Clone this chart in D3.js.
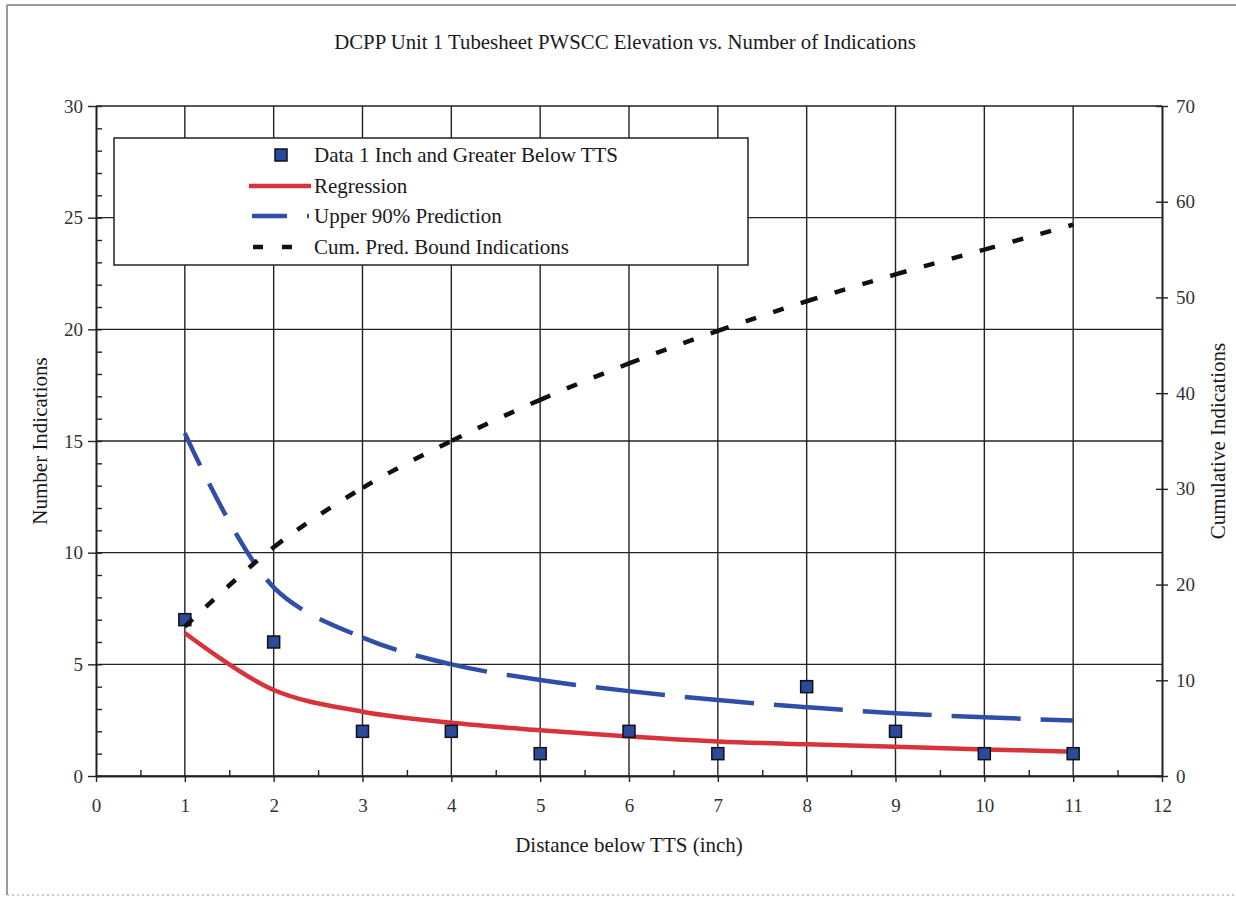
<html>
<head>
    <meta charset="utf-8">
    <title>DCPP Unit 1 Tubesheet PWSCC Elevation</title>
    <script src="https://d3js.org/d3.v7.min.js"></script>
    <style>
        body { margin: 0; background: #fff; overflow: hidden; }
        text { font-family: "Liberation Serif", "Times New Roman", serif; }
    </style>
</head>
<body>
    <div id="my_chart"></div>
    <script>
        // distance below TTS (inch)
        var distance = [1, 2, 3, 4, 5, 6, 7, 8, 9, 10, 11];
        // observed indications
        var indications = [7, 6, 2, 2, 1, 2, 1, 4, 2, 1, 1];
        var regression = [6.4, 3.85, 2.88, 2.38, 2.05, 1.77, 1.55, 1.42, 1.31, 1.19, 1.09];
        var upper90 = [15.35, 8.45, 6.2, 5.0, 4.3, 3.8, 3.4, 3.08, 2.81, 2.63, 2.48];
        // cumulative, read on right axis
        var cumBound = [15.6, 23.9, 30.1, 35.0, 39.3, 43.1, 46.5, 49.6, 52.4, 55.0, 57.6];

        var xTicks = [0, 1, 2, 3, 4, 5, 6, 7, 8, 9, 10, 11, 12];
        var yLeftTicks = [0, 5, 10, 15, 20, 25, 30];
        var yRightTicks = [0, 10, 20, 30, 40, 50, 60, 70];

        var legendLabels = ["Data 1 Inch and Greater Below TTS", "Regression",
                            "Upper 90% Prediction", "Cum. Pred. Bound Indications"];

        var W = 1236, H = 900;
        var plotL = 96, plotR = 1162, plotT = 106, plotB = 776;

        var svg = d3.select("#my_chart")
            .append("svg")
            .attr("width", W)
            .attr("height", H)
            .style("display", "block");

        // outer frame of the scanned figure
        svg.append("line").attr("x1", 7).attr("x2", 7).attr("y1", 5).attr("y2", 895)
            .attr("stroke", "#999").attr("stroke-width", 2);
        svg.append("line").attr("x1", 7).attr("x2", W).attr("y1", 5).attr("y2", 5)
            .attr("stroke", "#999").attr("stroke-width", 2);
        svg.append("line").attr("x1", 7).attr("x2", W).attr("y1", 895).attr("y2", 895)
            .attr("stroke", "#bbb").attr("stroke-width", 1.5).attr("stroke-dasharray", "2,3");

        var x = d3.scaleLinear().domain([0, 12]).range([plotL, plotR]);
        var yL = d3.scaleLinear().domain([0, 30]).range([plotB, plotT]);
        var yR = d3.scaleLinear().domain([0, 70]).range([plotB, plotT]);

        var gridColor = "#222";
        var textColor = "#1a1a1a";

        // grid
        svg.append("g").selectAll("line")
            .data(yLeftTicks)
            .enter().append("line")
            .attr("x1", plotL).attr("x2", plotR)
            .attr("y1", function(d) { return yL(d); })
            .attr("y2", function(d) { return yL(d); })
            .attr("stroke", gridColor).attr("stroke-width", 1.4);
        svg.append("g").selectAll("line")
            .data(xTicks.slice(1, -1))
            .enter().append("line")
            .attr("x1", function(d) { return x(d); })
            .attr("x2", function(d) { return x(d); })
            .attr("y1", plotT).attr("y2", plotB)
            .attr("stroke", gridColor).attr("stroke-width", 1.4);

        function styleAxis(g) {
            g.select(".domain").attr("stroke", gridColor).attr("stroke-width", 1.6);
            g.selectAll(".tick line").attr("stroke", gridColor).attr("stroke-width", 1.4);
            g.selectAll("text")
                .attr("font-family", "'Liberation Serif', 'Times New Roman', serif")
                .attr("font-size", 19).attr("fill", "#333");
        }

        // left axis, major outward + minor inward
        svg.append("g")
            .attr("transform", "translate(" + plotL + ",0)")
            .call(d3.axisLeft(yL).tickValues(yLeftTicks).tickSize(8).tickPadding(5).tickSizeOuter(0))
            .call(styleAxis);
        svg.append("g")
            .attr("transform", "translate(" + plotL + ",0)")
            .call(d3.axisRight(yL).tickValues(d3.range(0, 31)).tickSize(6).tickFormat("").tickSizeOuter(0))
            .call(styleAxis);

        // bottom axis
        svg.append("g")
            .attr("transform", "translate(0," + plotB + ")")
            .call(d3.axisBottom(x).tickValues(xTicks).tickSize(6).tickPadding(17).tickSizeOuter(0))
            .call(styleAxis);
        svg.append("g")
            .attr("transform", "translate(0," + plotB + ")")
            .call(d3.axisTop(x).tickValues(d3.range(0.5, 12, 1)).tickSize(6).tickFormat("").tickSizeOuter(0))
            .call(styleAxis);

        // right axis, ticks cross the line
        svg.append("g")
            .attr("transform", "translate(" + plotR + ",0)")
            .call(d3.axisRight(yR).tickValues(yRightTicks).tickSize(6).tickPadding(8).tickSizeOuter(0))
            .call(styleAxis);
        svg.append("g")
            .attr("transform", "translate(" + plotR + ",0)")
            .call(d3.axisLeft(yR).tickValues(yRightTicks).tickSize(6).tickFormat("").tickSizeOuter(0))
            .call(styleAxis);

        // titles
        svg.append("text")
            .attr("x", 625).attr("y", 49)
            .attr("text-anchor", "middle")
            .attr("font-size", 20.8).attr("fill", textColor)
            .text("DCPP Unit 1 Tubesheet PWSCC Elevation vs. Number of Indications");
        svg.append("text")
            .attr("x", (plotL + plotR) / 2).attr("y", 852)
            .attr("text-anchor", "middle")
            .attr("font-size", 21).attr("fill", textColor)
            .text("Distance below TTS (inch)");
        svg.append("text")
            .attr("transform", "translate(47," + (plotT + plotB) / 2 + ") rotate(-90)")
            .attr("text-anchor", "middle")
            .attr("font-size", 21).attr("fill", textColor)
            .text("Number Indications");
        svg.append("text")
            .attr("transform", "translate(1225," + (plotT + plotB) / 2 + ") rotate(-90)")
            .attr("text-anchor", "middle")
            .attr("font-size", 21).attr("fill", textColor)
            .text("Cumulative Indications");

        // dash pattern that starts over at every data point, like the source chart
        function segmentDash(path, xsPx, pattern) {
            var node = path.node();
            var total = node.getTotalLength();
            var breaks = [];
            var j = 0;
            for (var l = 0; l <= total; l += 0.5) {
                var p = node.getPointAtLength(l);
                while (j < xsPx.length && p.x >= xsPx[j] - 0.01) { breaks.push(l); j++; }
            }
            while (breaks.length < xsPx.length) breaks.push(total);
            var runs = [];
            function add(len, on) {
                if (len <= 0) return;
                if (runs.length && runs[runs.length - 1].on === on) runs[runs.length - 1].len += len;
                else runs.push({len: len, on: on});
            }
            for (var i = 0; i < breaks.length - 1; i++) {
                var L = breaks[i + 1] - breaks[i], pos = 0, k = 0;
                while (pos < L) {
                    var d = Math.min(pattern[k % 2], L - pos);
                    add(d, k % 2 === 0);
                    pos += d; k++;
                }
            }
            var arr = runs.map(function(r) { return r.len.toFixed(2); });
            if (runs.length % 2 === 1) arr.push(5000);
            path.attr("stroke-dasharray", arr.join(","));
        }

        var xsPx = distance.map(function(d) { return x(d); });

        var lineL = d3.line()
            .x(function(d, i) { return x(distance[i]); })
            .y(function(d) { return yL(d); })
            .curve(d3.curveCatmullRom);
        var lineR = d3.line()
            .x(function(d, i) { return x(distance[i]); })
            .y(function(d) { return yR(d); })
            .curve(d3.curveCatmullRom);

        var red = "#d8333a", blue = "#2f4ea6", sqFill = "#2c4a9c";

        svg.append("path")
            .attr("d", lineL(regression))
            .attr("fill", "none").attr("stroke", red).attr("stroke-width", 4.5);

        var bluePath = svg.append("path")
            .attr("d", lineL(upper90))
            .attr("fill", "none").attr("stroke", blue).attr("stroke-width", 4.5);
        segmentDash(bluePath, xsPx, [36, 20]);

        svg.selectAll(".pt")
            .data(indications)
            .enter().append("rect")
            .attr("class", "pt")
            .attr("x", function(d, i) { return x(distance[i]) - 6; })
            .attr("y", function(d) { return yL(d) - 6; })
            .attr("width", 12).attr("height", 12)
            .attr("fill", sqFill).attr("stroke", "#111").attr("stroke-width", 1.5);

        var cumPath = svg.append("path")
            .attr("d", lineR(cumBound))
            .attr("fill", "none").attr("stroke", "#111").attr("stroke-width", 4.5);
        segmentDash(cumPath, xsPx, [11, 18]);

        // legend
        var lg = svg.append("g");
        lg.append("rect")
            .attr("x", 114).attr("y", 138).attr("width", 634).attr("height", 127)
            .attr("fill", "#fff").attr("stroke", gridColor).attr("stroke-width", 1.5);
        var rowY = [155, 186, 216, 247];
        lg.selectAll("text")
            .data(legendLabels)
            .enter().append("text")
            .attr("x", 314)
            .attr("y", function(d, i) { return rowY[i] + 7; })
            .attr("font-size", 21).attr("fill", textColor)
            .text(function(d) { return d; });
        lg.append("rect")
            .attr("x", 275).attr("y", rowY[0] - 6).attr("width", 12).attr("height", 12)
            .attr("fill", sqFill).attr("stroke", "#111").attr("stroke-width", 1.5);
        lg.append("line")
            .attr("x1", 249).attr("x2", 311).attr("y1", rowY[1]).attr("y2", rowY[1])
            .attr("stroke", red).attr("stroke-width", 4.5);
        lg.append("line")
            .attr("x1", 252).attr("x2", 309).attr("y1", rowY[2]).attr("y2", rowY[2])
            .attr("stroke", blue).attr("stroke-width", 4.5).attr("stroke-dasharray", "35,20");
        lg.append("line")
            .attr("x1", 253).attr("x2", 300).attr("y1", rowY[3]).attr("y2", rowY[3])
            .attr("stroke", "#111").attr("stroke-width", 4.5).attr("stroke-dasharray", "10,19");
    </script>
</body>
</html>
